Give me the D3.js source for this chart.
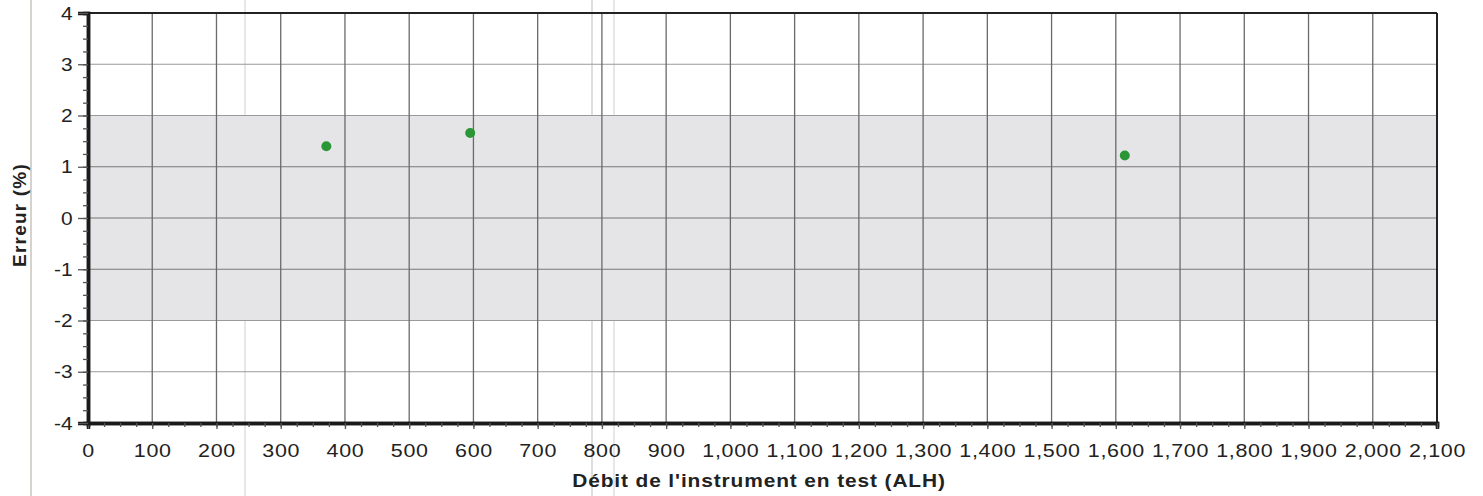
<!DOCTYPE html>
<html>
<head>
<meta charset="utf-8">
<script src="https://cdn.jsdelivr.net/npm/d3@7"></script>
<style>
  body { margin: 0; background: #fff; }
  svg text { font-family: "Liberation Sans", Arial, sans-serif; fill: #222; }
</style>
</head>
<body>
<div id="chart"></div>
<script>
// measured points: flow (ALH) vs error (%)
const flows = [371, 595, 1614];
const errors = [1.40, 1.66, 1.22];
const xTicks = d3.range(0, 2101, 100);
const yTicks = [-4, -3, -2, -1, 0, 1, 2, 3, 4];
const band = [-2, 2];

const W = 1483, H = 496;
const margin = { top: 13, right: 46, bottom: 73, left: 88 };
const width = W - margin.left - margin.right,
  height = H - margin.top - margin.bottom;

const svg = d3.select("#chart").append("svg")
  .attr("width", W).attr("height", H);

// faint marks from the scan
[[31, "#d6d2ce", 2], [245, "#cfcfcf", 1], [592, "#bdbdbd", 1], [614, "#cfcfcf", 1]].forEach(([px, c, w]) => {
  svg.append("line").attr("x1", px).attr("x2", px).attr("y1", 0).attr("y2", H)
    .attr("stroke", c).attr("stroke-width", w);
});

const g = svg.append("g").attr("transform", `translate(${margin.left},${margin.top})`);

const x = d3.scaleLinear().domain([0, 2100]).range([0, width]);
const y = d3.scaleLinear().domain([-4, 4]).range([height, 0]);

// tolerance band
g.append("rect")
  .attr("x", 0).attr("width", width)
  .attr("y", y(band[1])).attr("height", y(band[0]) - y(band[1]))
  .attr("fill", "#e5e5e7");

// grid
g.append("g").selectAll("line").data(yTicks).join("line")
  .attr("x1", 0).attr("x2", width)
  .attr("y1", d => y(d)).attr("y2", d => y(d))
  .attr("stroke", d => (d === 0 || d === 1 || d === -1) ? "#777" : "#9a9a9a")
  .attr("stroke-width", 1.2);
g.append("g").selectAll("line").data(xTicks).join("line")
  .attr("x1", d => x(d)).attr("x2", d => x(d))
  .attr("y1", 0).attr("y2", height)
  .attr("stroke", "#6a6a6a").attr("stroke-width", 1.3);

// frame
g.append("line").attr("x1", 0).attr("x2", width).attr("y1", 0).attr("y2", 0)
  .attr("stroke", "#222").attr("stroke-width", 2);
g.append("line").attr("x1", width).attr("x2", width).attr("y1", 0).attr("y2", height)
  .attr("stroke", "#222").attr("stroke-width", 2);

// axes
const fmtX = d3.format(",");
const xAxis = g.append("g").attr("transform", `translate(0,${height})`)
  .call(d3.axisBottom(x).tickValues(xTicks).tickSize(6).tickPadding(15).tickFormat(fmtX));
const xMinor = g.append("g").attr("transform", `translate(0,${height})`)
  .call(d3.axisBottom(x).tickValues(d3.range(0, 2101, 25)).tickSize(4).tickFormat(""));
const yAxis = g.append("g")
  .call(d3.axisLeft(y).tickValues(yTicks).tickSize(10).tickPadding(4).tickFormat(d => String(d)));
const yMinor = g.append("g")
  .call(d3.axisLeft(y).tickValues(d3.range(-4, 4.01, 0.25)).tickSize(5).tickFormat(""));

[xAxis, xMinor, yAxis, yMinor].forEach(a => {
  a.select(".domain").attr("stroke", "#1a1a1a").attr("stroke-width", 3.5);
  a.selectAll(".tick line").attr("stroke", "#555").attr("stroke-width", 1.3);
});
// the scanned labels are a little wider than the font, stretch them
xAxis.selectAll("text").attr("font-size", 19).attr("letter-spacing", 0.6)
  .attr("transform", "scale(1.13,1)").attr("fill", "#222");
yAxis.selectAll("text").attr("font-size", 19)
  .attr("transform", "scale(1.1,1)").attr("fill", "#222");

// points
g.append("g").selectAll("circle").data(flows).join("circle")
  .attr("cx", d => x(d))
  .attr("cy", (d, i) => y(errors[i]))
  .attr("r", 5)
  .attr("fill", "#2b9636");

// axis titles
svg.append("g").attr("transform", "translate(759,487) scale(1.1,1)")
  .append("text")
  .attr("text-anchor", "middle").attr("font-size", 19).attr("font-weight", "bold")
  .attr("letter-spacing", 0.8)
  .text("Débit de l'instrument en test (ALH)");
svg.append("text")
  .attr("transform", `translate(26,215) rotate(-90)`)
  .attr("text-anchor", "middle").attr("font-size", 19).attr("font-weight", "bold")
  .attr("letter-spacing", 1.2)
  .text("Erreur (%)");
</script>
</body>
</html>
